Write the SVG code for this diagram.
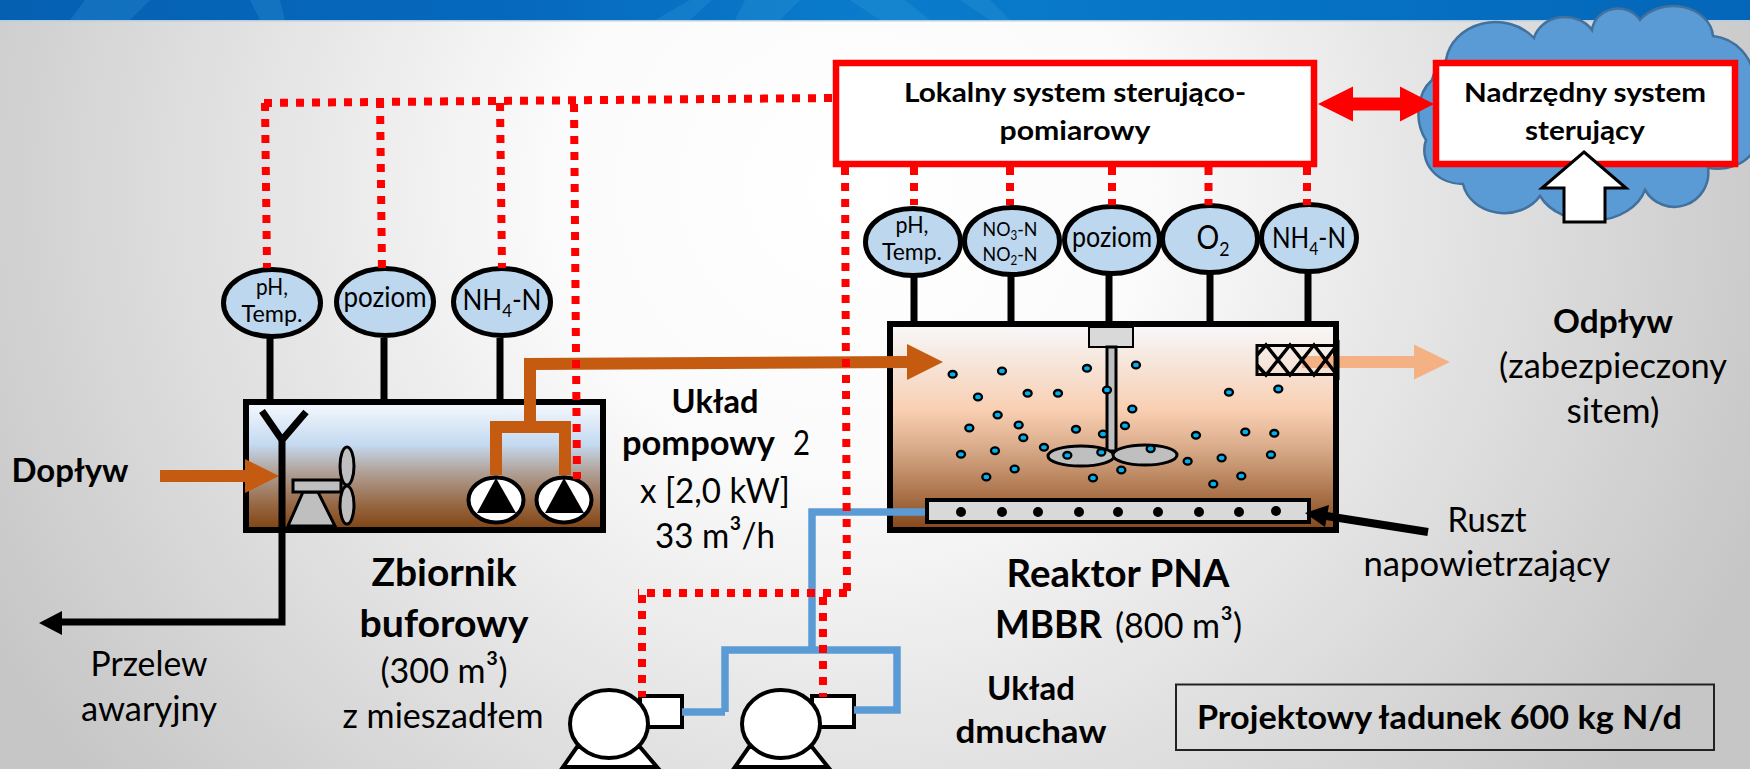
<svg xmlns="http://www.w3.org/2000/svg" width="1750" height="769" viewBox="0 0 1750 769">
<style>
text{font-family:"Lato","Liberation Sans",sans-serif;fill:#000;text-anchor:middle}
.b{font-weight:700}
.l{font-size:34px}
.lb{font-size:33px;font-weight:700}
.xl{font-size:38px;font-weight:700}
.box{font-size:27px;font-weight:700}
.s{font-size:28px}
.ss{font-size:23px}
.xs{font-size:20px}
.st{text-anchor:start}
.sup{font-size:1.12em}
.sensor{fill:#bdd7ee;stroke:#000;stroke-width:5}
.stem{stroke:#000;stroke-width:7;fill:none}
.red{stroke:#f00;stroke-width:8;stroke-dasharray:8 8;fill:none}
.or{stroke:#c55a11;stroke-width:12;fill:none}
.blue{stroke:#5b9bd5;stroke-width:7.5;fill:none}
.rb{fill:#fff;stroke:#f00;stroke-width:6.5}
.gray{fill:#bfbfbf;stroke:#000;stroke-width:3}
.bead{fill:#00b0f0;stroke:#000;stroke-width:7}
.pump{fill:#fff;stroke:#000;stroke-width:4}
.wh{fill:#fff;stroke:#000;stroke-width:4}
</style>
<defs>
<radialGradient id="bg" gradientUnits="userSpaceOnUse" cx="0" cy="0" r="1" gradientTransform="translate(850 190) scale(980 930)">
<stop offset="0" stop-color="#fff"/><stop offset=".3" stop-color="#fbfbfb"/><stop offset="1" stop-color="#c6c6c6"/>
</radialGradient>
<linearGradient id="head" x1="0" x2="1" y1="0" y2="0">
<stop offset="0" stop-color="#0560b2"/><stop offset=".3" stop-color="#0669bd"/><stop offset=".5" stop-color="#0a7ccb"/><stop offset=".75" stop-color="#0672c4"/><stop offset="1" stop-color="#0466b8"/>
</linearGradient>
<linearGradient id="t1" x1="0" x2="0" y1="0" y2="1">
<stop offset="0" stop-color="#f6f9fd"/><stop offset=".33" stop-color="#c4daf1"/><stop offset=".55" stop-color="#b0a095"/><stop offset=".8" stop-color="#976845"/><stop offset="1" stop-color="#7f430f"/>
</linearGradient>
<linearGradient id="t2" x1="0" x2="0" y1="0" y2="1">
<stop offset="0" stop-color="#f8f9fb"/><stop offset=".2" stop-color="#f6e4d8"/><stop offset=".42" stop-color="#f9cfb2"/><stop offset=".6" stop-color="#d9ab8a"/><stop offset=".8" stop-color="#b07a52"/><stop offset="1" stop-color="#85461a"/>
</linearGradient>
</defs>

<rect width="1750" height="769" fill="url(#bg)"/>
<rect width="1750" height="20" fill="url(#head)"/>
<g fill="#3aa0dc" opacity=".25">
<path d="M655 20 L690 0 L712 0 L690 20Z"/><path d="M735 20 L745 0 L800 0 L780 20Z"/><path d="M850 0 L905 0 L930 20 L880 20Z"/><path d="M960 0 L990 0 L1010 20 L990 20Z"/><path d="M70 20 L85 0 L150 0 L130 20Z"/><path d="M250 0 L280 0 L285 20 L260 20Z"/>
</g>
<rect y="20" width="1750" height="1.5" fill="#b4cfe4"/>

<g id="chmura">
<path d="M1446 60 A50 44 0 0 1 1534 38 A32 28 0 0 1 1592 30 A26 24 0 0 1 1640 20 A40 32 0 0 1 1713 36 A46 46 0 0 1 1754 80 L1754 150 A40 30 0 0 1 1708 168 A34 34 0 0 1 1645 190 A56 42 0 0 1 1540 196 A42 36 0 0 1 1463 184 A38 34 0 0 1 1426 140 A30 40 0 0 1 1432 80 A30 30 0 0 1 1446 60Z" fill="#5b9bd5" stroke="#41719c" stroke-width="2.5"/>
</g>

<g id="lokalny-system">
<rect class="rb" x="836" y="63" width="478" height="101"/>
<text class="box" x="1075" y="102" textLength="342" lengthAdjust="spacingAndGlyphs">Lokalny system sterująco-</text>
<text class="box" x="1075" y="140" textLength="151" lengthAdjust="spacingAndGlyphs">pomiarowy</text>
</g>
<g id="nadrzedny-system">
<rect class="rb" x="1436" y="63" width="299" height="101"/>
<text class="box" x="1585" y="102" textLength="242" lengthAdjust="spacingAndGlyphs">Nadrzędny system</text>
<text class="box" x="1585" y="140" textLength="120" lengthAdjust="spacingAndGlyphs">sterujący</text>
</g>

<g id="zbiornik-buforowy">
<rect x="246" y="402" width="357" height="128" fill="url(#t1)" stroke="#000" stroke-width="6"/>
<path class="stem" d="M270 338V400M384 338V400M500 338V400"/>
<path class="gray" d="M288 526H335L318 492H303Z"/>
<rect class="gray" x="293" y="480" width="48" height="12"/>
<ellipse class="gray" cx="347" cy="466" rx="7" ry="19"/>
<ellipse class="gray" cx="347" cy="505" rx="7" ry="19"/>
<text class="xl" x="444" y="586" textLength="145" lengthAdjust="spacingAndGlyphs">Zbiornik</text>
<text class="xl" x="444" y="637" textLength="169" lengthAdjust="spacingAndGlyphs">buforowy</text>
<text class="l" x="444" y="683" textLength="127" lengthAdjust="spacingAndGlyphs">(300 m<tspan class="sup">³</tspan>)</text>
<text class="l" x="443" y="728" textLength="201" lengthAdjust="spacingAndGlyphs">z mieszadłem</text>
</g>
<g id="pompa-1">
<ellipse class="pump" cx="496" cy="500" rx="27.5" ry="22.5"/><path d="M496 478L477 513H516Z"/>
</g>
<g id="pompa-2">
<ellipse class="pump" cx="564" cy="500" rx="27.5" ry="22.5"/><path d="M564 478L545 513H584Z"/>
</g>

<g id="sensor-ph-1"><ellipse class="sensor" cx="272" cy="303" rx="48.5" ry="33.5"/><text class="ss" x="272" y="295" textLength="32" lengthAdjust="spacingAndGlyphs">pH,</text><text class="ss" x="272" y="322" textLength="61" lengthAdjust="spacingAndGlyphs">Temp.</text></g>
<g id="sensor-poziom-1"><ellipse class="sensor" cx="385" cy="302" rx="48.5" ry="33.5"/><text class="s" x="385" y="307" textLength="83" lengthAdjust="spacingAndGlyphs">poziom</text></g>
<g id="sensor-nh4-1"><ellipse class="sensor" cx="502" cy="302" rx="48.5" ry="33.5"/><text class="s" x="502" y="310" textLength="79" lengthAdjust="spacingAndGlyphs">NH<tspan font-size="18" dy="7">4</tspan><tspan dy="-7">-N</tspan></text></g>

<g id="sensor-ph-2"><ellipse class="sensor" cx="913" cy="242" rx="47.5" ry="33.5"/><text class="ss" x="912" y="233" textLength="33" lengthAdjust="spacingAndGlyphs">pH,</text><text class="ss" x="912" y="260" textLength="60" lengthAdjust="spacingAndGlyphs">Temp.</text></g>
<g id="sensor-no"><ellipse class="sensor" cx="1012" cy="241" rx="47.5" ry="33.5"/><text class="xs" x="1010" y="236" textLength="55" lengthAdjust="spacingAndGlyphs">NO<tspan font-size="13" dy="4">3</tspan><tspan dy="-4">-N</tspan></text><text class="xs" x="1010" y="261" textLength="55" lengthAdjust="spacingAndGlyphs">NO<tspan font-size="13" dy="4">2</tspan><tspan dy="-4">-N</tspan></text></g>
<g id="sensor-poziom-2"><ellipse class="sensor" cx="1112" cy="240" rx="47.5" ry="33.5"/><text class="s" x="1112" y="247" textLength="80" lengthAdjust="spacingAndGlyphs">poziom</text></g>
<g id="sensor-o2"><ellipse class="sensor" cx="1210" cy="239" rx="47.5" ry="33.5"/><text x="1213" y="249" font-size="32" textLength="33" lengthAdjust="spacingAndGlyphs">O<tspan font-size="20" dy="7">2</tspan></text></g>
<g id="sensor-nh4-2"><ellipse class="sensor" cx="1309" cy="238" rx="47.5" ry="33.5"/><text class="s" x="1309" y="248" textLength="74" lengthAdjust="spacingAndGlyphs">NH<tspan font-size="18" dy="7">4</tspan><tspan dy="-7">-N</tspan></text></g>

<g id="reaktor">
<rect x="890" y="324" width="446" height="206" fill="url(#t2)" stroke="#000" stroke-width="6"/>
<path class="stem" d="M914 276V322M1011 275V322M1109 274V322M1210 273V322M1308 272V322"/>
<rect x="1089" y="327" width="44" height="20" fill="#d9d9d9" stroke="#000" stroke-width="2"/>
<rect class="gray" x="1107" y="347" width="9" height="104"/>
<ellipse class="gray" cx="1081" cy="456" rx="33" ry="10"/>
<ellipse class="gray" cx="1145" cy="455" rx="32" ry="10"/>
<g transform="translate(870 310) scale(.3333)">
<ellipse class="bead" cx="248" cy="193" rx="12" ry="10"/><ellipse class="bead" cx="396" cy="183" rx="12" ry="10"/><ellipse class="bead" cx="651" cy="175" rx="12" ry="10"/><ellipse class="bead" cx="798" cy="165" rx="12" ry="10"/><ellipse class="bead" cx="324" cy="261" rx="12" ry="10"/><ellipse class="bead" cx="473" cy="250" rx="12" ry="10"/><ellipse class="bead" cx="564" cy="250" rx="12" ry="10"/><ellipse class="bead" cx="711" cy="240" rx="12" ry="10"/><ellipse class="bead" cx="1077" cy="247" rx="12" ry="10"/><ellipse class="bead" cx="1225" cy="237" rx="12" ry="10"/><ellipse class="bead" cx="787" cy="297" rx="12" ry="10"/><ellipse class="bead" cx="383" cy="315" rx="12" ry="10"/><ellipse class="bead" cx="446" cy="345" rx="12" ry="10"/><ellipse class="bead" cx="298" cy="354" rx="12" ry="10"/><ellipse class="bead" cx="618" cy="358" rx="12" ry="10"/><ellipse class="bead" cx="699" cy="372" rx="12" ry="10"/><ellipse class="bead" cx="765" cy="347" rx="12" ry="10"/><ellipse class="bead" cx="460" cy="383" rx="12" ry="10"/><ellipse class="bead" cx="978" cy="376" rx="12" ry="10"/><ellipse class="bead" cx="1126" cy="366" rx="12" ry="10"/><ellipse class="bead" cx="1213" cy="370" rx="12" ry="10"/><ellipse class="bead" cx="522" cy="412" rx="12" ry="10"/><ellipse class="bead" cx="273" cy="433" rx="12" ry="10"/><ellipse class="bead" cx="375" cy="422" rx="12" ry="10"/><ellipse class="bead" cx="592" cy="436" rx="12" ry="10"/><ellipse class="bead" cx="694" cy="427" rx="12" ry="10"/><ellipse class="bead" cx="842" cy="416" rx="12" ry="10"/><ellipse class="bead" cx="953" cy="454" rx="12" ry="10"/><ellipse class="bead" cx="1055" cy="444" rx="12" ry="10"/><ellipse class="bead" cx="1203" cy="434" rx="12" ry="10"/><ellipse class="bead" cx="434" cy="477" rx="12" ry="10"/><ellipse class="bead" cx="349" cy="501" rx="12" ry="10"/><ellipse class="bead" cx="754" cy="480" rx="12" ry="10"/><ellipse class="bead" cx="669" cy="504" rx="12" ry="10"/><ellipse class="bead" cx="1114" cy="498" rx="12" ry="10"/><ellipse class="bead" cx="1030" cy="522" rx="12" ry="10"/>
</g>
<rect x="927" y="500" width="382" height="22" fill="#d9d9d9" stroke="#000" stroke-width="4"/>
<g>
<circle cx="961" cy="512" r="5"/><circle cx="1002" cy="512" r="5"/><circle cx="1038" cy="512" r="5"/><circle cx="1079" cy="512" r="5"/><circle cx="1118" cy="512" r="5"/><circle cx="1158" cy="512" r="5"/><circle cx="1199" cy="512" r="5"/><circle cx="1239" cy="512" r="5"/><circle cx="1276" cy="511" r="5"/>
</g>
<text class="xl" x="1118" y="587" textLength="223" lengthAdjust="spacingAndGlyphs">Reaktor PNA</text>
<text class="xl st" x="995" y="638"><tspan textLength="107" lengthAdjust="spacingAndGlyphs">MBBR</tspan> <tspan x="1115" font-weight="400" font-size="34" textLength="127" lengthAdjust="spacingAndGlyphs">(800 m<tspan class="sup">³</tspan>)</tspan></text>
</g>

<g id="dmuchawa-1">
<rect class="wh" x="640" y="696" width="42" height="31"/>
<path class="wh" d="M577 747L563 767H657L640 747Z"/>
<ellipse class="wh" cx="609" cy="724" rx="39" ry="34"/>
</g>
<g id="dmuchawa-2">
<rect class="wh" x="812" y="696" width="42" height="31"/>
<path class="wh" d="M749 747L735 767H828L812 747Z"/>
<ellipse class="wh" cx="781" cy="724" rx="39" ry="34"/>
</g>

<g id="connectors">
<path class="blue" d="M925 512H812V650M725 712V650H897V710H854M725 712H682"/>
<path class="or" d="M530 427V364L907 362M496 475V427H565V475"/>
<path d="M907 344L943 362L907 380Z" fill="#c55a11"/>
<path d="M160 470H245V459L279 476L245 493V482H160Z" fill="#c55a11"/>
<path d="M1302 356H1414V344.500L1450 362L1414 379.500V368H1302Z" fill="#f4b183"/>
<path class="stem" d="M262 411L282 440L306 412M282 440V622H55"/>
<path d="M39 623L62 611V635Z"/>
<path d="M1428 532L1320 515" stroke="#000" stroke-width="8" fill="none"/>
<path d="M1305 513L1329 505L1325 527Z"/>
<path d="M1318 104L1353 86.500V97.500H1400V86.500L1434 104L1400 121.500V110.500H1353V121.500Z" fill="#f00"/>
<path class="red" d="M832 98L262 103"/>
<path class="red" d="M265 103L267 268M380 100L382 271M500 103L502 268M574 104L577 479M845 167L847 596M847 593H638M642 595V697M823 597V697"/>
<path class="red" d="M914 167V205M1010 167V205M1112 167V205M1208.500 167V205M1307 167V205"/>
<path d="M1584 152L1626 188H1605V222H1564V188H1542Z" fill="#fff" stroke="#000" stroke-width="3"/>
</g>

<g id="sito">
<rect x="1257" y="345.500" width="80" height="29" fill="none" stroke="#000" stroke-width="3"/>
<path d="M1257 355L1266 345L1290 375L1314 345L1337 375M1257 365L1266 375L1290 345L1314 375L1337 345" fill="none" stroke="#000" stroke-width="3.500"/>
<path d="M1336.500 340V380" stroke="#000" stroke-width="6"/>
</g>

<g id="etykiety">
<text class="lb" x="70" y="482" textLength="117" lengthAdjust="spacingAndGlyphs">Dopływ</text>
<text class="l" x="149" y="676" textLength="117" lengthAdjust="spacingAndGlyphs">Przelew</text>
<text class="l" x="149" y="721" textLength="136" lengthAdjust="spacingAndGlyphs">awaryjny</text>
<text class="lb" x="715" y="413" textLength="87" lengthAdjust="spacingAndGlyphs">Układ</text>
<text class="l st" x="622" y="455"><tspan class="b" textLength="153" lengthAdjust="spacingAndGlyphs">pompowy</tspan> <tspan x="793" textLength="17" lengthAdjust="spacingAndGlyphs">2</tspan></text>
<text class="l" x="715" y="503" textLength="150" lengthAdjust="spacingAndGlyphs">x [2,0 kW]</text>
<text class="l" x="715" y="548" textLength="120" lengthAdjust="spacingAndGlyphs">33 m<tspan class="sup">³</tspan>/h</text>
<text class="lb" x="1031" y="700" textLength="88" lengthAdjust="spacingAndGlyphs">Układ</text>
<text class="lb" x="1031" y="743" textLength="151" lengthAdjust="spacingAndGlyphs">dmuchaw</text>
<text class="lb" x="1613" y="333" textLength="120" lengthAdjust="spacingAndGlyphs">Odpływ</text>
<text class="l" x="1613" y="378" textLength="228" lengthAdjust="spacingAndGlyphs">(zabezpieczony</text>
<text class="l" x="1613" y="423" textLength="93" lengthAdjust="spacingAndGlyphs">sitem)</text>
<text class="l" x="1487" y="532" textLength="79" lengthAdjust="spacingAndGlyphs">Ruszt</text>
<text class="l" x="1487" y="576" textLength="247" lengthAdjust="spacingAndGlyphs">napowietrzający</text>
</g>
<g id="ladunek">
<rect x="1176" y="684.500" width="538" height="65.500" fill="none" stroke="#222" stroke-width="2"/>
<text class="lb" x="1439.500" y="729" textLength="485" lengthAdjust="spacingAndGlyphs">Projektowy ładunek 600 kg N/d</text>
</g>
</svg>
